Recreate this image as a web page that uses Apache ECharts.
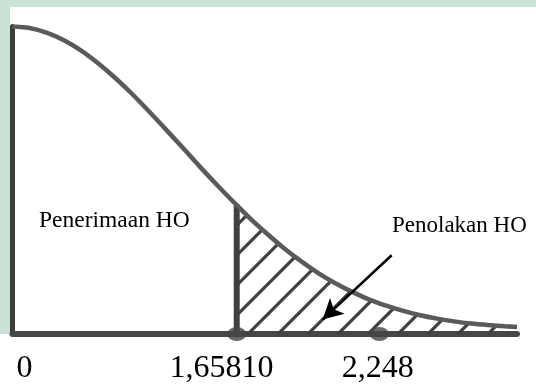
<!DOCTYPE html>
<html>
<head>
<meta charset="utf-8">
<script src="https://cdn.jsdelivr.net/npm/echarts@6/dist/echarts.min.js"></script>
<style>
  html, body { margin: 0; padding: 0; background: #fff; }
  #main { width: 536px; height: 385px; }
</style>
</head>
<body>
<div id="main"></div>
<script>
// curve positions (in sd units) and heights (relative to the peak)
const zPos = [0, 0.1, 0.2, 0.3, 0.4, 0.5, 0.6, 0.7, 0.8, 0.9, 1.0, 1.1, 1.2, 1.3, 1.4,
  1.5, 1.6, 1.7, 1.8, 1.9, 2.0, 2.1, 2.2, 2.3, 2.4, 2.5, 2.6, 2.7, 2.8, 2.9, 2.97]
const curveHeights = [1.0, 0.995, 0.98, 0.956, 0.923, 0.882, 0.835, 0.783, 0.726, 0.667, 0.607,
  0.546, 0.487, 0.43, 0.375, 0.325, 0.278, 0.236, 0.198, 0.165, 0.137, 0.112, 0.092, 0.075,
  0.061, 0.05, 0.041, 0.034, 0.029, 0.025, 0.023]

// critical value line and the dots on the baseline
const criticalPos = 1.32
const criticalHeight = 0.42
const dotPos = [1.32, 2.16]

// labels under the axis
const tickPos = [0.07, 1.23, 2.15]
const tickLabels = ['0', '1,65810', '2,248']

// arrow pointing into the rejection area
const arrowFrom = [2.232, 0.256]
const arrowTo = [1.826, 0.047]

const curveData = zPos.map((z, i) => [z, curveHeights[i]])
const rejectData = [[criticalPos, criticalHeight]].concat(curveData.filter(p => p[0] > criticalPos))

// hatch pattern  ( "/" lines )
function makeHatch () {
  const size = 30
  const c = document.createElement('canvas')
  c.width = size
  c.height = size
  const ctx = c.getContext('2d')
  ctx.strokeStyle = '#404040'
  ctx.lineWidth = 3.2
  const off = 12
  ;[off - size, off, off + size].forEach(d => {
    ctx.beginPath()
    ctx.moveTo(d + 10, -10)
    ctx.lineTo(-10, d + 10)
    ctx.stroke()
  })
  return c
}

const serif = "'Liberation Serif', 'Times New Roman', serif"
const chart = echarts.init(document.getElementById('main'))

const option = {
  animation: false,
  backgroundColor: '#fff',
  grid: { left: 12.5, right: 19, top: 26.5, bottom: 48.5, containLabel: false },
  xAxis: {
    type: 'value',
    min: 0,
    max: 2.97,
    splitLine: { show: false },
    axisTick: { show: false },
    axisLine: { show: true, lineStyle: { color: '#474747', width: 6 } },
    axisLabel: {
      customValues: tickPos,
      formatter: v => tickLabels[tickPos.indexOf(v)],
      color: '#000',
      fontFamily: serif,
      fontSize: 32,
      margin: 19
    }
  },
  yAxis: {
    type: 'value',
    min: 0,
    max: 1,
    splitLine: { show: false },
    axisTick: { show: false },
    axisLabel: { show: false },
    axisLine: { show: true, lineStyle: { color: '#3d3d3d', width: 5 } }
  },
  graphic: [
    { type: 'rect', z: -10, shape: { x: 0, y: 0, width: 536, height: 7 }, style: { fill: '#cbe3d6' } },
    { type: 'rect', z: -10, shape: { x: 0, y: 0, width: 10, height: 334 }, style: { fill: '#cbe3d6' } },
    {
      type: 'text', left: 39, top: 209, z: 20,
      style: { text: 'Penerimaan HO', font: '23.5px ' + serif, fill: '#000' }
    },
    {
      type: 'text', left: 392, top: 214, z: 20,
      style: { text: 'Penolakan HO', font: '23px ' + serif, fill: '#000' }
    }
  ],
  series: [
    {
      name: 'rejection',
      type: 'line',
      data: rejectData,
      smooth: 0.3,
      symbol: 'none',
      lineStyle: { width: 0 },
      areaStyle: { color: { image: makeHatch(), repeat: 'repeat' }, opacity: 1 },
      z: 2,
      markLine: {
        silent: true,
        symbol: ['none', 'arrow'],
        symbolSize: [16, 20],
        label: { show: false },
        lineStyle: { color: '#000', width: 2.5, type: 'solid' },
        data: [[{ coord: arrowFrom }, { coord: arrowTo }]]
      }
    },
    {
      name: 'critical',
      type: 'line',
      data: [[criticalPos, 0], [criticalPos, criticalHeight]],
      symbol: 'none',
      lineStyle: { color: '#404040', width: 6 },
      z: 3
    },
    {
      name: 'curve',
      type: 'line',
      data: curveData,
      smooth: 0.3,
      symbol: 'none',
      lineStyle: { color: '#5a5a5a', width: 4.5 },
      z: 4
    },
    {
      name: 'dots',
      type: 'scatter',
      data: dotPos.map(z => [z, 0]),
      symbol: 'circle',
      symbolSize: [19, 14],
      itemStyle: { color: '#454545' },
      z: 5
    }
  ]
}
chart.setOption(option)
</script>
</body>
</html>
